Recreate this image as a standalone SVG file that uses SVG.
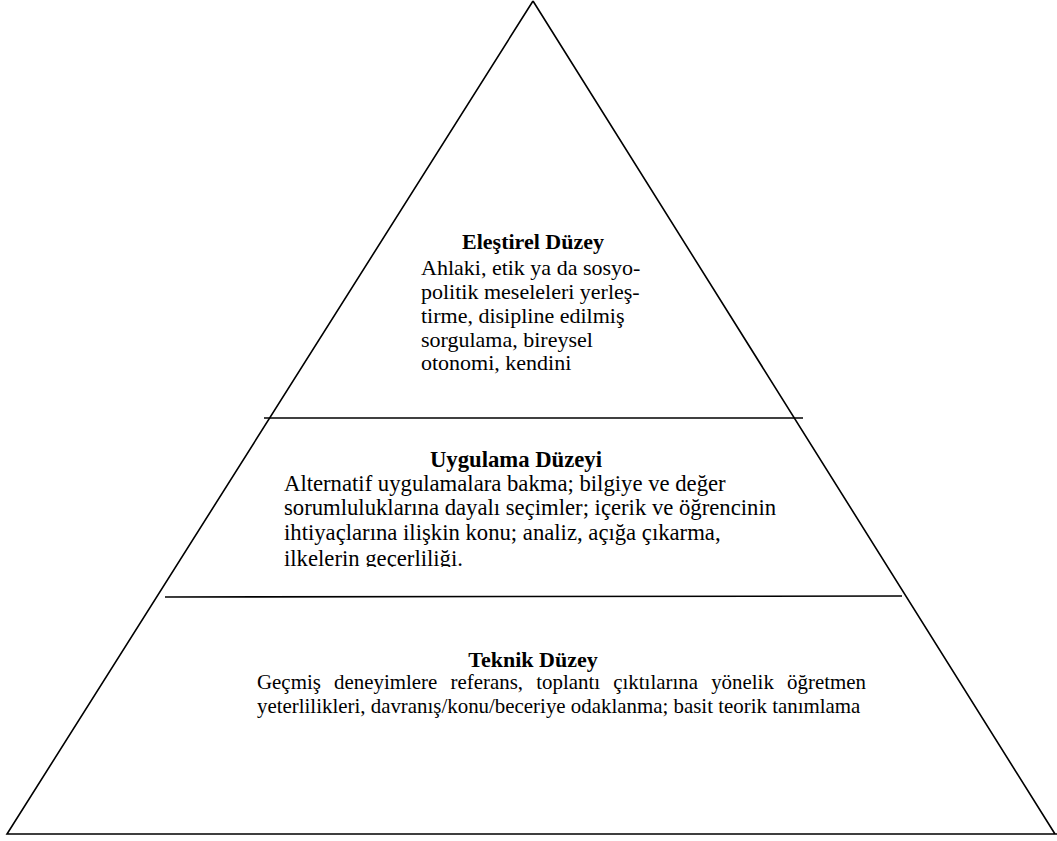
<svg xmlns="http://www.w3.org/2000/svg" width="1057" height="841" viewBox="0 0 1057 841">
<style>
.ln{stroke:#000;stroke-width:1.6;fill:none}
.t{font-family:'Liberation Serif','Times New Roman',serif;font-size:22px;fill:#000}
.b{font-weight:bold;text-anchor:middle}
.u{font-size:22.7px}
.k{font-size:20.9px}
</style>
<defs>
<clipPath id="c1"><rect x="0" y="0" width="1057" height="388"/></clipPath>
<clipPath id="c2"><rect x="0" y="420" width="1057" height="147"/></clipPath>
</defs>
<rect width="1057" height="841" fill="#fff"/>
<g id="pyramid">
<path class="ln" d="M533,1 L7,834 L1057,834 M533,1 L1055,834"/>
<line class="ln" x1="264" y1="418" x2="803" y2="418"/>
<line class="ln" x1="165" y1="597" x2="902" y2="596"/>
</g>
<g id="elestirel" clip-path="url(#c1)">
<text class="t b" x="533" y="249" font-size="22.3">Eleştirel Düzey</text>
<text class="t" x="421" y="275">Ahlaki, etik ya da sosyo-</text>
<text class="t" x="421" y="299">politik meseleleri yerleş-</text>
<text class="t" x="421" y="323">tirme, disipline edilmiş</text>
<text class="t" x="421" y="347">sorgulama, bireysel</text>
<text class="t" x="421" y="370">otonomi, kendini</text>
</g>
<g id="uygulama" clip-path="url(#c2)">
<text class="t u b" x="516" y="467">Uygulama Düzeyi</text>
<text class="t u" x="284" y="491">Alternatif uygulamalara bakma; bilgiye ve değer</text>
<text class="t u" x="284" y="515">sorumluluklarına dayalı seçimler; içerik ve öğrencinin</text>
<text class="t u" x="284" y="539.5">ihtiyaçlarına ilişkin konu; analiz, açığa çıkarma,</text>
<text class="t u" x="284" y="566">ilkelerin geçerliliği.</text>
</g>
<g id="teknik">
<text class="t b" x="533" y="667">Teknik Düzey</text>
<text class="t k" x="257" y="689" word-spacing="8">Geçmiş deneyimlere referans, toplantı çıktılarına yönelik öğretmen</text>
<text class="t k" x="257" y="713">yeterlilikleri, davranış/konu/beceriye odaklanma; basit teorik tanımlama</text>
</g>
</svg>
